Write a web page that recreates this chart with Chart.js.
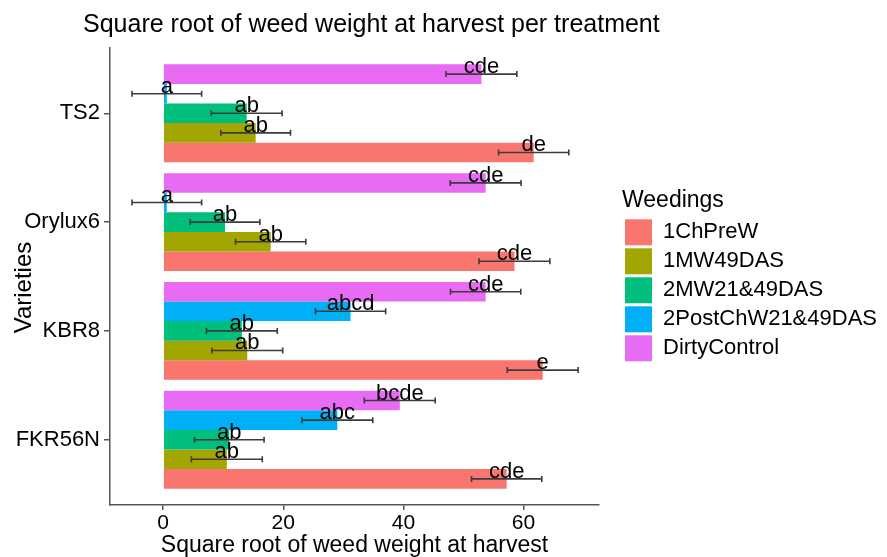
<!DOCTYPE html>
<html>
<head>
<meta charset="utf-8">
<script src="https://cdn.jsdelivr.net/npm/chart.js@4"></script>
<style>
  html, body { margin: 0; padding: 0; background: #ffffff; }
  #wrap { width: 887px; height: 557px; position: relative; }
</style>
</head>
<body>
<div id="wrap"><canvas id="chart"></canvas></div>
<script>
// Varieties, top to bottom
const varieties = ['TS2', 'Orylux6', 'KBR8', 'FKR56N'];
const weedings = ['1ChPreW', '1MW49DAS', '2MW21&49DAS', '2PostChW21&49DAS', 'DirtyControl'];
const xTicks = [0, 20, 40, 60];

// Mean square-root weed weight per variety (order follows `varieties`)
const chPreW  = [61.7, 58.5, 63.2, 57.2];
const mw49    = [15.4, 17.9, 14.0, 10.6];
const mw2149  = [13.9, 10.3, 13.1, 11.0];
const postChW = [0.6, 0.6, 31.2, 29.0];
const dirty   = [53.0, 53.7, 53.7, 39.4];

// Standard errors
const chPreWSe  = [5.85, 5.9, 5.9, 5.85];
const mw49Se    = [5.8, 5.85, 5.9, 5.9];
const mw2149Se  = [5.9, 5.8, 5.9, 5.8];
const postChWSe = [5.8, 5.8, 5.85, 5.9];
const dirtySe   = [5.9, 5.9, 5.85, 5.9];

// Mean-separation letters
const chPreWLet  = ['de', 'cde', 'e', 'cde'];
const mw49Let    = ['ab', 'ab', 'ab', 'ab'];
const mw2149Let  = ['ab', 'ab', 'ab', 'ab'];
const postChWLet = ['a', 'a', 'abcd', 'abc'];
const dirtyLet   = ['cde', 'cde', 'cde', 'bcde'];

const FONT = '"Liberation Sans", Arial, Helvetica, sans-serif';
const palette = ['#F8766D', '#A3A500', '#00BF7D', '#00B0F6', '#E76BF3'];

const seriesValues = [chPreW, mw49, mw2149, postChW, dirty];
const seriesSe = [chPreWSe, mw49Se, mw2149Se, postChWSe, dirtySe];
const seriesLetters = [chPreWLet, mw49Let, mw2149Let, postChWLet, dirtyLet];

// variety i sits at y = n - i so the first variety is drawn at the top
const yPos = i => varieties.length - i;

// datasets listed top-of-group first
const datasets = weedings.map((name, k) => ({
  label: name,
  data: seriesValues[k].map((v, i) => ({ x: v, y: yPos(i) })),
  se: seriesSe[k],
  letters: seriesLetters[k],
  backgroundColor: palette[k],
  borderWidth: 0,
  categoryPercentage: 0.9,
  barPercentage: 1.0
})).reverse();

// error bars (mean ± se) and the letter over each bar
const errorBars = {
  id: 'errorBars',
  afterDatasetsDraw(chart) {
    const ctx = chart.ctx;
    const xs = chart.scales.x;
    const items = [];
    chart.data.datasets.forEach((ds, di) => {
      const meta = chart.getDatasetMeta(di);
      meta.data.forEach((bar, i) => {
        const m = ds.data[i].x, e = ds.se[i];
        items.push({ m, e, y: bar.y, text: ds.letters[i] });
      });
    });
    ctx.save();
    ctx.strokeStyle = '#3c3c3c';
    ctx.lineWidth = 1.6;
    items.forEach(it => {
      const x0 = xs.getPixelForValue(it.m - it.e);
      const x1 = xs.getPixelForValue(it.m + it.e);
      ctx.beginPath();
      ctx.moveTo(x0, it.y); ctx.lineTo(x1, it.y);
      ctx.moveTo(x0, it.y - 3); ctx.lineTo(x0, it.y + 3);
      ctx.moveTo(x1, it.y - 3); ctx.lineTo(x1, it.y + 3);
      ctx.stroke();
    });
    ctx.fillStyle = '#000000';
    ctx.font = '22px ' + FONT;
    ctx.textAlign = 'center';
    ctx.textBaseline = 'alphabetic';
    items.forEach(it => {
      ctx.fillText(it.text, xs.getPixelForValue(it.m), it.y - 1);
    });
    ctx.restore();
  }
};

// plot title and the rotated y-axis title
const titles = {
  id: 'titles',
  afterDraw(chart) {
    const ctx = chart.ctx;
    const area = chart.chartArea;
    ctx.save();
    ctx.fillStyle = '#000000';
    ctx.font = '25px ' + FONT;
    ctx.textAlign = 'left';
    ctx.textBaseline = 'alphabetic';
    ctx.fillText('Square root of weed weight at harvest per treatment', 83, 32);
    ctx.translate(24, (area.top + area.bottom) / 2 + 11);
    ctx.rotate(-Math.PI / 2);
    ctx.font = '24px ' + FONT;
    ctx.textAlign = 'center';
    ctx.textBaseline = 'middle';
    ctx.fillText('Varieties', 0, 0);
    ctx.restore();
  }
};

new Chart(document.getElementById('chart'), {
  type: 'bar',
  data: { datasets },
  plugins: [errorBars, titles],
  options: {
    indexAxis: 'y',
    responsive: true,
    maintainAspectRatio: false,
    animation: false,
    layout: { padding: { top: 48, left: 0, right: 0, bottom: 0 } },
    scales: {
      x: {
        type: 'linear',
        position: 'bottom',
        min: -8.86,
        max: 72.58,
        afterBuildTicks: s => { s.ticks = xTicks.map(v => ({ value: v })); },
        afterFit: s => { s.height = 52; },
        ticks: { font: { family: FONT, size: 21 }, color: '#000000', padding: 1 },
        grid: { drawOnChartArea: false, drawTicks: true, tickLength: 5, color: '#555555', lineWidth: 1.5 },
        border: { display: true, color: '#555555', width: 1.5 },
        title: { display: true, text: 'Square root of weed weight at harvest', color: '#000000',
                 font: { family: FONT, size: 23, lineHeight: 1 }, padding: { top: 0, bottom: 0 } }
      },
      y: {
        type: 'linear',
        position: 'left',
        min: 0.4,
        max: 4.6,
        offset: false,
        afterBuildTicks: s => { s.ticks = varieties.map((_, i) => ({ value: yPos(i) })); },
        afterFit: s => { s.width = 110; },
        ticks: {
          font: { family: FONT, size: 22 }, color: '#000000', padding: 4,
          callback: v => varieties[varieties.length - Math.round(v)]
        },
        grid: { offset: false, drawOnChartArea: false, drawTicks: true, tickLength: 6, color: '#555555', lineWidth: 1.5 },
        border: { display: true, color: '#555555', width: 1.5 },
        title: { display: false }
      },
      gap: {
        type: 'linear',
        position: 'right',
        display: true,
        afterFit: s => { s.width = 23; },
        ticks: { display: false },
        grid: { display: false },
        border: { display: false }
      }
    },
    plugins: {
      legend: {
        position: 'right',
        fullSize: false,
        reverse: true,
        align: 'center',
        maxWidth: 300,
        title: { display: true, text: 'Weedings', position: 'start', color: '#000000',
                 font: { family: FONT, size: 23 } },
        labels: {
          boxWidth: 27,
          boxHeight: 26,
          padding: 3,
          color: '#000000',
          font: { family: FONT, size: 22 }
        }
      },
      tooltip: { enabled: false }
    }
  }
});
</script>
</body>
</html>
